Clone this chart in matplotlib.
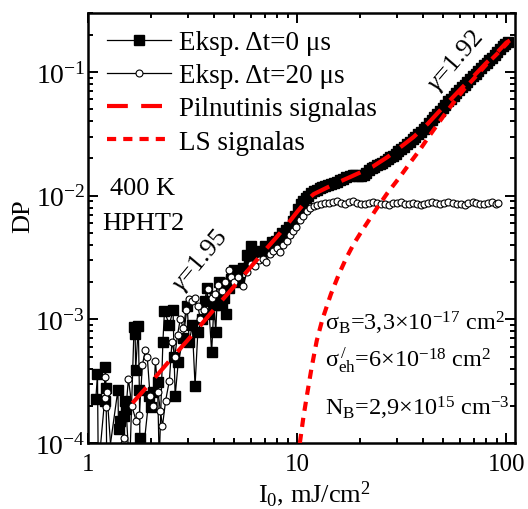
import numpy as np
import matplotlib.pyplot as plt
from matplotlib.ticker import FixedLocator, FuncFormatter, LogLocator, NullFormatter

plt.rcParams['font.family'] = ['Liberation Serif', 'DejaVu Serif']
plt.rcParams['mathtext.fontset'] = 'custom'
plt.rcParams['mathtext.rm'] = 'Liberation Serif'
plt.rcParams['mathtext.it'] = 'Liberation Serif:italic'
plt.rcParams['mathtext.bf'] = 'Liberation Serif:bold'

# Eksp. dt=0 us (filled squares)
sq_low = [(1.09, 2.26e-4), (1.11, 3.6e-4), (1.12, 6e-5), (1.20, 2.2e-4), (1.21, 4.1e-4),
          (1.22, 2.8e-4), (1.23, 6e-5), (1.39, 2.7e-4), (1.40, 1.3e-4), (1.42, 1.5e-4),
          (1.48, 1.65e-4), (1.50, 2.2e-4), (1.52, 1.9e-4), (1.58, 6e-5), (1.66, 8.6e-4),
          (1.68, 7.6e-4), (1.69, 3.9e-4), (1.74, 8.8e-4), (1.76, 2.7e-4), (1.77, 1.1e-4),
          (1.80, 6e-5), (1.96, 2.4e-4), (1.99, 1.95e-4), (2.05, 2.6e-4), (2.15, 3.1e-4),
          (2.19, 7e-5), (2.28, 6.5e-4), (2.32, 1.16e-3), (2.45, 9e-4), (2.55, 1.2e-3),
          (2.58, 5e-4), (2.61, 2.4e-4), (2.70, 4.5e-4), (2.85, 7e-4), (2.98, 1.27e-3),
          (3.05, 6.5e-4), (3.15, 9e-4), (3.25, 2.9e-4), (3.35, 7.9e-4), (3.50, 1.0e-3),
          (3.62, 1.4e-3), (3.70, 1.8e-3), (3.80, 1.1e-3), (3.90, 5.4e-4), (4.00, 1.3e-3),
          (4.08, 7.9e-4), (4.15, 1.5e-3), (4.22, 2.0e-3), (4.35, 1.3e-3), (4.45, 1.5e-3),
          (4.55, 1.1e-3), (4.70, 1.8e-3), (4.85, 2.1e-3), (5.00, 2.5e-3), (5.13, 2.3e-3),
          (5.30, 2.0e-3), (5.50, 2.6e-3), (5.74, 3.3e-3), (5.90, 3.0e-3), (6.00, 3.9e-3),
          (6.10, 3.1e-3), (6.30, 3.4e-3), (6.50, 3.2e-3), (6.70, 3.6e-3), (7.00, 3.9e-3),
          (7.30, 3.7e-3), (7.60, 4.2e-3), (7.90, 4.3e-3), (8.20, 4.6e-3), (8.50, 5.0e-3),
          (8.80, 5.3e-3), (9.15, 5.6e-3), (9.50, 6.2e-3), (9.80, 6.9e-3)]
sq_high = [(10.1, 7.8e-3), (10.4, 8.6e-3), (10.7, 9.0e-3), (11.0, 9.6e-3), (11.3, 1.0e-2),
           (11.6, 1.06e-2), (12.0, 1.1e-2), (12.4, 1.12e-2), (12.8, 1.15e-2), (13.2, 1.17e-2),
           (13.6, 1.2e-2), (14.0, 1.22e-2), (14.5, 1.25e-2), (15.0, 1.27e-2), (15.5, 1.3e-2),
           (16.0, 1.33e-2), (16.6, 1.37e-2), (17.2, 1.42e-2), (17.8, 1.45e-2), (18.4, 1.47e-2),
           (19.0, 1.47e-2), (19.6, 1.45e-2), (20.2, 1.44e-2), (20.8, 1.47e-2), (21.4, 1.53e-2),
           (22.0, 1.6e-2), (22.7, 1.66e-2), (23.4, 1.72e-2), (24.1, 1.77e-2), (24.8, 1.8e-2),
           (25.5, 1.85e-2), (26.3, 1.9e-2), (27.1, 1.97e-2), (27.9, 2.04e-2), (28.7, 2.1e-2),
           (29.6, 2.18e-2), (30.5, 2.28e-2), (31.5, 2.38e-2), (32.5, 2.48e-2), (33.5, 2.6e-2),
           (34.5, 2.72e-2), (35.6, 2.85e-2), (36.7, 3.0e-2), (37.8, 3.15e-2), (39.0, 3.3e-2),
           (40.2, 3.45e-2), (41.4, 3.62e-2), (42.7, 3.85e-2), (44.0, 4.1e-2), (45.3, 4.35e-2),
           (46.7, 4.6e-2), (48.1, 4.85e-2), (49.6, 5.15e-2), (51.1, 5.45e-2), (52.7, 5.8e-2),
           (54.3, 6.1e-2), (56.0, 6.45e-2), (57.7, 6.8e-2), (59.5, 7.15e-2), (61.3, 7.5e-2),
           (63.2, 7.9e-2), (65.1, 8.35e-2), (67.1, 8.8e-2), (69.2, 9.2e-2), (71.3, 9.7e-2),
           (73.5, 0.102), (75.7, 0.108), (78.0, 0.113), (80.4, 0.119), (82.9, 0.125),
           (85.4, 0.131), (88.0, 0.138), (90.7, 0.145), (93.5, 0.153), (96.4, 0.162),
           (99.0, 0.170), (102.0, 0.176)]

# Eksp. dt=20 us (open circles)
circ_low = [(1.20, 3.4e-4), (1.21, 2.3e-4), (1.22, 1.95e-4), (1.23, 2.6e-4), (1.30, 7e-5),
            (1.48, 1.1e-4), (1.56, 3.3e-4), (1.62, 2.0e-4), (1.70, 1.5e-4), (1.76, 1.7e-4),
            (1.82, 4.3e-4), (1.88, 5.6e-4), (1.92, 5.0e-4), (1.98, 2.4e-4), (2.05, 2.0e-4),
            (2.10, 4.6e-4), (2.16, 2.6e-4), (2.22, 1.8e-4), (2.27, 1.37e-4), (2.35, 2.2e-4),
            (2.45, 3.2e-4), (2.52, 6.6e-4), (2.60, 5.0e-4), (2.68, 7.5e-4), (2.76, 1.0e-3),
            (2.86, 8.5e-4), (2.94, 1.2e-3), (3.05, 1.45e-3), (3.15, 1.4e-3), (3.25, 1.5e-3),
            (3.35, 1.27e-3), (3.45, 1.0e-3), (3.60, 1.2e-3), (3.75, 1.75e-3), (3.90, 1.5e-3),
            (4.05, 1.6e-3), (4.20, 1.9e-3), (4.35, 1.7e-3), (4.50, 2.0e-3), (4.70, 2.5e-3),
            (4.85, 2.2e-3), (5.00, 2.0e-3), (5.20, 2.2e-3), (5.50, 1.85e-3), (5.75, 2.4e-3),
            (6.04, 2.8e-3), (6.30, 2.7e-3), (6.60, 3.0e-3), (6.90, 3.1e-3), (7.10, 2.9e-3),
            (7.40, 3.4e-3), (7.70, 3.6e-3), (8.00, 3.8e-3), (8.30, 3.5e-3), (8.60, 4.0e-3),
            (8.90, 4.3e-3), (9.20, 4.8e-3), (9.50, 5.2e-3), (9.90, 5.6e-3), (10.3, 6.3e-3),
            (10.7, 6.9e-3), (11.1, 7.5e-3), (11.5, 7.9e-3), (12.0, 8.2e-3), (12.5, 8.4e-3)]
circ_plateau_x = [13.0, 13.6, 14.2, 14.8, 15.5, 16.2, 16.9, 17.7, 18.5, 19.3,
                  20.2, 21.1, 22.0, 23.0, 24.0, 25.1, 26.2, 27.4, 28.6, 29.9,
                  31.2, 32.6, 34.1, 35.6, 37.2, 38.9, 40.6, 42.4, 44.3, 46.3,
                  48.4, 50.6, 52.9, 55.3, 57.8, 60.4, 63.1, 65.9, 68.9, 72.0,
                  75.2, 78.6, 82.1, 85.8, 89.0, 91.5]
circ_plateau_y = [8.6, 8.8, 8.7, 8.9, 9.0, 8.8, 8.6, 8.9, 9.1, 8.7,
                  8.5, 8.6, 8.8, 8.9, 8.7, 8.5, 8.6, 8.4, 8.7, 8.8,
                  8.9, 8.6, 8.5, 8.7, 8.6, 8.4, 8.6, 8.8, 8.9, 8.7,
                  8.6, 8.8, 8.9, 8.7, 8.5, 8.6, 8.4, 8.7, 8.9, 8.8,
                  8.6, 8.5, 8.7, 8.9, 8.6, 8.8]  # x 1e-3

# Pilnutinis signalas (total fit)
fit_x = [1.63, 2, 2.5, 3, 3.5, 4, 5, 6, 7, 8, 9, 10, 11, 12, 13, 14, 16, 18, 20, 23,
         27, 31, 36, 42, 48, 55, 62, 70, 80, 90, 100, 104]
fit_y = [2.1e-4, 3.1e-4, 4.8e-4, 6.8e-4, 9.2e-4, 1.2e-3, 1.85e-3, 2.65e-3, 3.6e-3, 4.65e-3,
         5.9e-3, 7.4e-3, 9.0e-3, 1.03e-2, 1.1e-2, 1.17e-2, 1.3e-2, 1.42e-2, 1.54e-2, 1.72e-2,
         2.05e-2, 2.45e-2, 2.98e-2, 3.8e-2, 4.85e-2, 6.15e-2, 7.6e-2, 9.3e-2, 0.118, 0.143,
         0.173, 0.18]

# LS signalas
ls_x = [10.3, 10.7, 11.1, 11.7, 12.4, 13.2, 14.5, 15.8, 17.2, 18.6, 20.4, 23.9, 27.0,
        31.0, 34.7, 38.6, 42.3, 46.0, 51.0, 57.0, 63.0, 71.0, 81.0, 91.0, 102.0]
ls_y = [1.0e-4, 1.6e-4, 2.35e-4, 4.0e-4, 6.7e-4, 1.0e-3, 1.6e-3, 2.3e-3, 3.15e-3, 4.05e-3,
        5.2e-3, 7.8e-3, 1.05e-2, 1.42e-2, 1.85e-2, 2.35e-2, 2.95e-2, 3.6e-2, 4.6e-2, 5.9e-2,
        7.3e-2, 9.1e-2, 0.117, 0.142, 0.174]

x0, y0 = np.array(sq_low + sq_high).T
x20 = np.concatenate([np.array(circ_low)[:, 0], circ_plateau_x])
y20 = np.concatenate([np.array(circ_low)[:, 1], np.array(circ_plateau_y) * 1e-3])

fig = plt.figure(figsize=(5.28, 5.10), dpi=100)
ax = fig.add_axes([88 / 528, 66 / 510, 427 / 528, 430 / 510])

ax.plot(x0, y0, '-s', color='black', ms=6.5, lw=0.9, label='Eksp. Δt=0 μs', zorder=2)
ax.plot(x20, y20, '-o', color='black', mfc='white', mec='black', ms=5, mew=0.8,
        lw=0.9, label='Eksp. Δt=20 μs', zorder=3)
ax.plot(fit_x, fit_y, color='red', lw=3, dashes=(5, 3.2), label='Pilnutinis signalas', zorder=4)
ax.plot(ls_x, ls_y, color='red', lw=3, dashes=(2.2, 1.7), label='LS signalas', zorder=4)

ax.set_xscale('log')
ax.set_yscale('log')
ax.set_xlim(1, 110)
ax.set_ylim(1e-4, 0.3)

ax.xaxis.set_major_locator(FixedLocator([1, 10, 100]))
ax.xaxis.set_major_formatter(FuncFormatter(lambda v, p: '%g' % v))
ax.yaxis.set_major_formatter(FuncFormatter(lambda v, p: r'10$^{%d}$' % round(np.log10(v))))
ax.xaxis.set_minor_locator(LogLocator(base=10, subs=np.arange(2, 10)))
ax.yaxis.set_minor_locator(LogLocator(base=10, subs=np.arange(2, 10)))
ax.xaxis.set_minor_formatter(NullFormatter())
ax.yaxis.set_minor_formatter(NullFormatter())

ax.tick_params(which='both', direction='in', top=True, right=True, width=1.4)
ax.tick_params(which='major', length=7)
ax.tick_params(axis='x', which='major', pad=7, labelsize=18)
ax.tick_params(axis='y', which='major', pad=2, labelsize=20)
ax.tick_params(which='minor', length=3.6)
for s in ax.spines.values():
    s.set_linewidth(1.8)

ax.set_xlabel(r'I$_0$, mJ/cm$^2$', fontsize=19)
ax.set_ylabel('DP', fontsize=19)
ax.xaxis.set_label_coords(0.53, -0.083)
ax.yaxis.set_label_coords(-0.125, 0.53)

ax.legend(loc='upper left', bbox_to_anchor=(0.0445, 0.96), frameon=False, fontsize=19.5,
          handlelength=2.35, handletextpad=0.3, labelspacing=0.3, borderpad=0,
          borderaxespad=0, numpoints=1)

ax.text(0.052, 0.579, '400 K', transform=ax.transAxes, fontsize=19)
ax.text(0.033, 0.498, 'HPHT2', transform=ax.transAxes, fontsize=19)
ax.text(3.44, 3.05e-3, r'$\gamma$=1.95', fontsize=19, rotation=50, ha='center', va='center')
ax.text(57.5, 0.125, r'$\gamma$=1.92', fontsize=19, rotation=49, ha='center', va='center')

ax.text(0.555, 0.265, r'σ$_\mathrm{B}$=3,3×10$^{-17}$ cm$^{2}$', transform=ax.transAxes, fontsize=17.5)
ax.text(0.555, 0.179, r'σ$_\mathrm{eh}^{\,/}$=6×10$^{-18}$ cm$^{2}$', transform=ax.transAxes, fontsize=17.5)
ax.text(0.555, 0.067, r'N$_\mathrm{B}$=2,9×10$^{15}$ cm$^{-3}$', transform=ax.transAxes, fontsize=17.5)

fig.savefig('out.png', dpi=100)
